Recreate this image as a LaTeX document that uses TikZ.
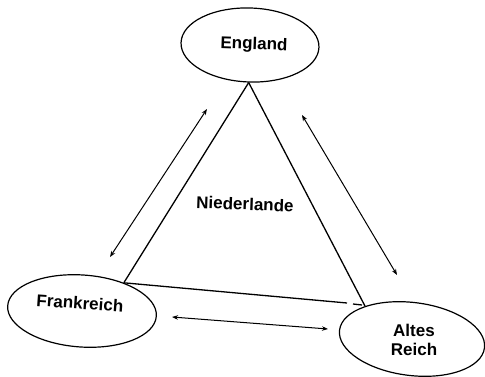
\documentclass[tikz,border=0pt]{standalone}
\usepackage{fontspec}
\setmainfont{Liberation Sans}
\usetikzlibrary{shapes.geometric,arrows.meta}
\begin{document}
\begin{tikzpicture}[x=1pt,y=-1pt,
  land/.style={draw,ellipse,line width=1.2pt,inner sep=0pt},
  edge/.style={line width=1.3pt},
  rel/.style={line width=1pt,{Stealth[length=6pt,width=4.5pt]}-{Stealth[length=6pt,width=4.5pt]}},
  lbl/.style={font=\bfseries\fontsize{17}{19.5}\selectfont,align=center}]
\useasboundingbox (0,0) rectangle (485,377);
\node[land,minimum width=138pt,minimum height=74pt,rotate=-2] (eng) at (250,45) {};
\node[lbl,rotate=-2] (engt) at (254,45) {England};
\node[land,minimum width=149pt,minimum height=72pt,rotate=-4] (fra) at (82,311) {};
\node[lbl,rotate=-4] (frat) at (80,303) {Frankreich};
\node[land,minimum width=146pt,minimum height=73pt,rotate=-7] (alt) at (412,339) {};
\node[lbl] (altt) at (414,340) {Altes\\Reich};
\node[lbl,rotate=-2] (nl) at (245,204) {Niederlande};
% triangle
\coordinate (b1) at (347,303);
\coordinate (b2) at (353,304);
\coordinate (b3) at (362,305);
\draw[edge] (eng.south) -- (fra.38);
\draw[edge] (eng.south) -- (alt.152);
\draw[edge] (fra.38) -- (b1);
\draw[edge] (b2) -- (b3);
% relation arrows
\coordinate (l1) at (110,257);
\coordinate (l2) at (207,109);
\coordinate (r1) at (302,115);
\coordinate (r2) at (397,275);
\coordinate (m1) at (172,317);
\coordinate (m2) at (328,329);
\draw[rel] (l1) -- (l2);
\draw[rel] (r1) -- (r2);
\draw[rel] (m1) -- (m2);
\end{tikzpicture}
\end{document}
